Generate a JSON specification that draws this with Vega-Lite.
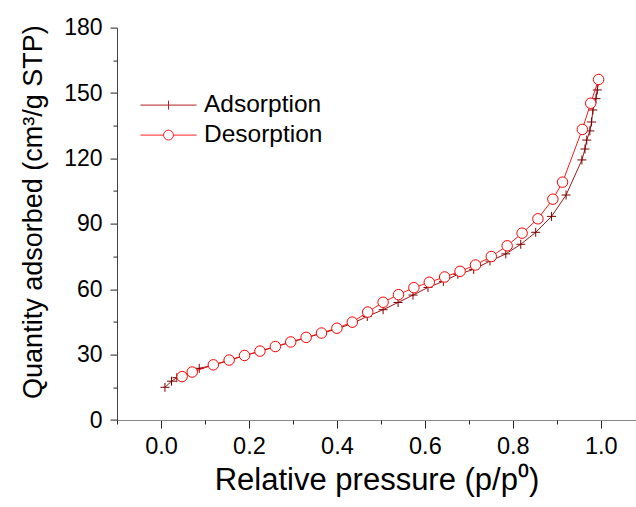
{
  "$schema": "https://vega.github.io/schema/vega-lite/v6.json",
  "width": 519,
  "height": 392.4,
  "autosize": {"type": "none"},
  "padding": {"left": 117, "top": 27.6, "right": 0, "bottom": 87},
  "background": "white",
  "config": {
    "view": {"stroke": null},
    "font": "Liberation Sans",
    "axis": {"grid": false, "labelFont": "Liberation Sans", "titleFont": "Liberation Sans", "labelColor": "#000", "titleColor": "#000", "tickColor": "#222", "titleFontWeight": "normal", "labelFlush": false, "labelOverlap": false}
  },
  "datasets": {
    "iso": [
      {"series": "Adsorption", "p": 0.009, "q": 15.0},
      {"series": "Adsorption", "p": 0.024, "q": 17.8},
      {"series": "Adsorption", "p": 0.036, "q": 19.4},
      {"series": "Adsorption", "p": 0.087, "q": 23.7},
      {"series": "Adsorption", "p": 0.12, "q": 25.2},
      {"series": "Adsorption", "p": 0.155, "q": 27.4},
      {"series": "Adsorption", "p": 0.19, "q": 29.5},
      {"series": "Adsorption", "p": 0.225, "q": 31.5},
      {"series": "Adsorption", "p": 0.26, "q": 33.6},
      {"series": "Adsorption", "p": 0.295, "q": 35.6},
      {"series": "Adsorption", "p": 0.33, "q": 37.7},
      {"series": "Adsorption", "p": 0.365, "q": 39.7},
      {"series": "Adsorption", "p": 0.4, "q": 41.8},
      {"series": "Adsorption", "p": 0.435, "q": 44.3},
      {"series": "Adsorption", "p": 0.469, "q": 47.5},
      {"series": "Adsorption", "p": 0.505, "q": 50.6},
      {"series": "Adsorption", "p": 0.539, "q": 53.9},
      {"series": "Adsorption", "p": 0.573, "q": 57.3},
      {"series": "Adsorption", "p": 0.607, "q": 60.8},
      {"series": "Adsorption", "p": 0.642, "q": 63.6},
      {"series": "Adsorption", "p": 0.675, "q": 66.8},
      {"series": "Adsorption", "p": 0.711, "q": 69.1},
      {"series": "Adsorption", "p": 0.748, "q": 72.9},
      {"series": "Adsorption", "p": 0.784, "q": 76.2},
      {"series": "Adsorption", "p": 0.818, "q": 80.6},
      {"series": "Adsorption", "p": 0.852, "q": 86.1},
      {"series": "Adsorption", "p": 0.888, "q": 93.4},
      {"series": "Adsorption", "p": 0.921, "q": 103.2},
      {"series": "Adsorption", "p": 0.957, "q": 119.3},
      {"series": "Adsorption", "p": 0.964, "q": 124.3},
      {"series": "Adsorption", "p": 0.968, "q": 128.4},
      {"series": "Adsorption", "p": 0.975, "q": 132.6},
      {"series": "Adsorption", "p": 0.979, "q": 136.7},
      {"series": "Adsorption", "p": 0.982, "q": 142.2},
      {"series": "Adsorption", "p": 0.989, "q": 147.4},
      {"series": "Adsorption", "p": 0.992, "q": 151.4},
      {"series": "Adsorption", "p": 0.995, "q": 155.5},
      {"series": "Desorption", "p": 0.048, "q": 19.9},
      {"series": "Desorption", "p": 0.071, "q": 22.0},
      {"series": "Desorption", "p": 0.119, "q": 25.3},
      {"series": "Desorption", "p": 0.155, "q": 27.5},
      {"series": "Desorption", "p": 0.19, "q": 29.6},
      {"series": "Desorption", "p": 0.225, "q": 31.6},
      {"series": "Desorption", "p": 0.26, "q": 33.7},
      {"series": "Desorption", "p": 0.295, "q": 35.8},
      {"series": "Desorption", "p": 0.33, "q": 37.9},
      {"series": "Desorption", "p": 0.365, "q": 39.9},
      {"series": "Desorption", "p": 0.4, "q": 42.1},
      {"series": "Desorption", "p": 0.435, "q": 44.9},
      {"series": "Desorption", "p": 0.47, "q": 49.5},
      {"series": "Desorption", "p": 0.505, "q": 54.0},
      {"series": "Desorption", "p": 0.54, "q": 57.5},
      {"series": "Desorption", "p": 0.575, "q": 60.7},
      {"series": "Desorption", "p": 0.61, "q": 63.2},
      {"series": "Desorption", "p": 0.645, "q": 65.6},
      {"series": "Desorption", "p": 0.68, "q": 68.2},
      {"series": "Desorption", "p": 0.715, "q": 71.1},
      {"series": "Desorption", "p": 0.751, "q": 75.0},
      {"series": "Desorption", "p": 0.787, "q": 79.9},
      {"series": "Desorption", "p": 0.821, "q": 85.7},
      {"series": "Desorption", "p": 0.857, "q": 92.3},
      {"series": "Desorption", "p": 0.891, "q": 101.3},
      {"series": "Desorption", "p": 0.913, "q": 109.1},
      {"series": "Desorption", "p": 0.958, "q": 133.3},
      {"series": "Desorption", "p": 0.977, "q": 145.3},
      {"series": "Desorption", "p": 0.995, "q": 156.2}
    ]
  },
  "data": {"name": "iso"},
  "resolve": {"axis": {"x": "independent", "y": "independent"}},
  "layer": [
    {
      "transform": [{"filter": "datum.series === 'Adsorption'"}],
      "mark": {"type": "line", "color": "#8b0000", "strokeWidth": 0.9},
      "encoding": {
        "x": {"field": "p", "type": "quantitative", "scale": {"domain": [-0.1, 1.08], "nice": false, "zero": false},
          "axis": {"orient": "bottom", "values": [0, 0.2, 0.4, 0.6, 0.8, 1.0], "format": ".1f", "tickSize": 8, "tickWidth": 1, "domainColor": "#888", "domainWidth": 1, "labelFontSize": 23.5, "labelPadding": 6, "title": "Relative pressure (p/p⁰)", "titleFontSize": 31, "titlePadding": 8}},
        "y": {"field": "q", "type": "quantitative", "scale": {"domain": [0, 180], "nice": false},
          "axis": {"orient": "left", "values": [0, 30, 60, 90, 120, 150, 180], "tickSize": 7, "tickWidth": 1, "domainColor": "#444", "domainWidth": 1, "labelFontSize": 23, "labelPadding": 8, "title": "Quantity adsorbed (cm³/g STP)", "titleFontSize": 27, "titlePadding": 16, "titleY": 184}}
      }
    },
    {
      "transform": [{"filter": "datum.series === 'Adsorption'"}],
      "mark": {"type": "point", "shape": "M-1,0H1M0,-1V1", "size": 81, "filled": false, "color": "#7a0000", "strokeWidth": 1, "opacity": 1},
      "encoding": {
        "x": {"field": "p", "type": "quantitative",
          "axis": {"orient": "bottom", "values": [-0.1, 0.1, 0.3, 0.5, 0.7, 0.9], "labels": false, "domain": false, "tickSize": 4, "tickWidth": 1, "title": null}},
        "y": {"field": "q", "type": "quantitative",
          "axis": {"orient": "left", "values": [15, 45, 75, 105, 135, 165], "labels": false, "domain": false, "tickSize": 4, "tickWidth": 1, "title": null}}
      }
    },
    {
      "transform": [{"filter": "datum.series === 'Desorption'"}],
      "mark": {"type": "line", "color": "#ff0000", "strokeWidth": 0.9},
      "encoding": {
        "x": {"field": "p", "type": "quantitative", "axis": null},
        "y": {"field": "q", "type": "quantitative", "axis": null}
      }
    },
    {
      "transform": [{"filter": "datum.series === 'Desorption'"}],
      "mark": {"type": "point", "shape": "circle", "size": 110, "filled": true, "fill": "white", "stroke": "#ff0000", "strokeWidth": 1, "opacity": 1},
      "encoding": {
        "x": {"field": "p", "type": "quantitative", "axis": null},
        "y": {"field": "q", "type": "quantitative", "axis": null}
      }
    },
    {
      "mark": {"type": "point", "filled": false, "opacity": 0},
      "encoding": {
        "x": {"field": "p", "type": "quantitative", "axis": null},
        "y": {"field": "q", "type": "quantitative", "axis": null},
        "color": {"field": "series", "type": "nominal", "scale": {"domain": ["Adsorption", "Desorption"], "range": ["#b02020", "#ff2020"]},
          "legend": {"orient": "none", "legendX": 36, "legendY": 62, "title": null, "padding": 0, "symbolSize": 900, "symbolStrokeWidth": 1, "symbolOpacity": 1, "labelFontSize": 24.5, "labelFont": "Liberation Sans", "labelColor": "#000", "labelOffset": 20, "rowPadding": 3}},
        "shape": {"field": "series", "type": "nominal", "scale": {"domain": ["Adsorption", "Desorption"], "range": ["M-1.87,0H1.87M0,-0.3V0.3", "M-1.87,0H-0.33A0.33,0.33 0 1,1 0.33,0A0.33,0.33 0 1,1 -0.33,0M0.33,0H1.87"]},
          "legend": {"orient": "none", "legendX": 36, "legendY": 62, "title": null, "padding": 0, "symbolSize": 900, "symbolStrokeWidth": 1, "symbolOpacity": 1, "labelFontSize": 24.5, "labelFont": "Liberation Sans", "labelColor": "#000", "labelOffset": 20, "rowPadding": 3}}
      }
    }
  ]
}
